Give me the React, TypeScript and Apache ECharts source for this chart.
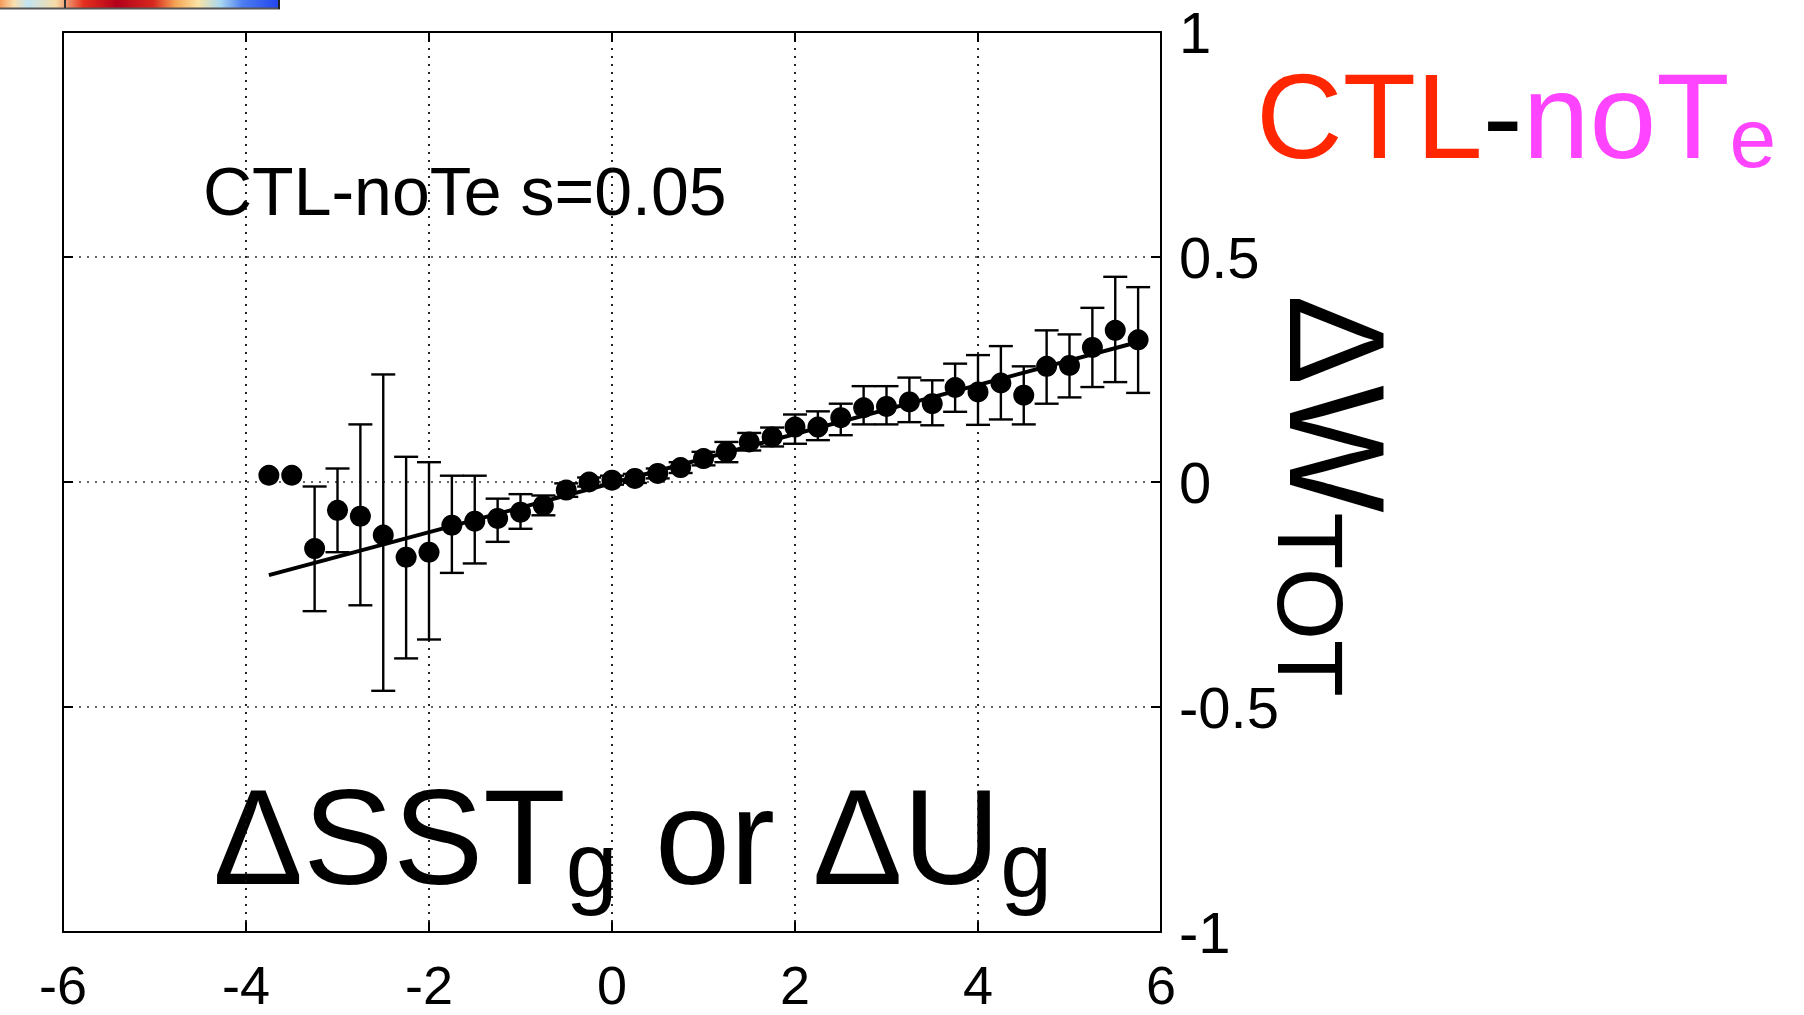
import React, { useEffect, useRef } from "react";
import * as echarts from "echarts";

// ---- data ----
const xValues = [
  -3.75, -3.5, -3.25, -3.0, -2.75, -2.5, -2.25, -2.0, -1.75, -1.5, -1.25, -1.0, -0.75,
  -0.5, -0.25, 0.0, 0.25, 0.5, 0.75, 1.0, 1.25, 1.5, 1.75, 2.0, 2.25, 2.5, 2.75, 3.0,
  3.25, 3.5, 3.75, 4.0, 4.25, 4.5, 4.75, 5.0, 5.25, 5.5, 5.75,
];
const meanValues = [
  0.015, 0.015, -0.148, -0.063, -0.076, -0.118, -0.167, -0.156, -0.096, -0.087, -0.081,
  -0.067, -0.052, -0.018, 0.0, 0.004, 0.008, 0.019, 0.032, 0.052, 0.067, 0.089, 0.1,
  0.122, 0.122, 0.143, 0.165, 0.168, 0.178, 0.174, 0.21, 0.2, 0.22, 0.193, 0.257, 0.259,
  0.299, 0.337, 0.316,
];
const lowValues = [
  null, null, -0.287, -0.156, -0.274, -0.464, -0.392, -0.35, -0.202, -0.181, -0.133,
  -0.104, -0.074, -0.033, -0.01, -0.006, -0.002, 0.008, 0.02, 0.037, 0.044, 0.07, 0.079,
  0.085, 0.093, 0.104, 0.128, 0.128, 0.133, 0.126, 0.156, 0.127, 0.139, 0.128, 0.174,
  0.188, 0.211, 0.222, 0.198,
];
const highValues = [
  null, null, -0.01, 0.03, 0.128, 0.239, 0.056, 0.044, 0.014, 0.014, -0.037, -0.027,
  -0.03, -0.003, 0.01, 0.014, 0.018, 0.03, 0.044, 0.067, 0.089, 0.109, 0.121, 0.15,
  0.157, 0.174, 0.213, 0.213, 0.232, 0.226, 0.263, 0.282, 0.302, 0.257, 0.337, 0.328,
  0.387, 0.456, 0.433,
];
const fitX = [-3.75, 5.75];
const fitY = [-0.207, 0.311];
const xTicks = [-6, -4, -2, 0, 2, 4, 6];
const yTicks = [-1, -0.5, 0, 0.5, 1];

const FONT = '"Liberation Sans", Arial, Helvetica, sans-serif';

let measureCtx: CanvasRenderingContext2D | null = null;
function measure(text: string, size: number): number {
  if (!measureCtx) {
    measureCtx = document.createElement("canvas").getContext("2d");
  }
  if (!measureCtx) return text.length * size * 0.55;
  measureCtx.font = `${size}px ${FONT}`;
  return measureCtx.measureText(text).width;
}

type Piece = { text: string; size: number; color: string; drop?: number };

// builds a run of text pieces on a common baseline (local y = 0)
function textRun(pieces: Piece[], x: number, y: number, rotation = 0) {
  let cx = 0;
  const children = pieces.map((p) => {
    const el = {
      type: "text",
      x: cx,
      y: (p.drop || 0) - 0.3465 * p.size,
      style: {
        text: p.text,
        font: `${p.size}px ${FONT}`,
        fill: p.color,
        align: "left",
        verticalAlign: "middle",
        textAlign: "left",
        textVerticalAlign: "middle",
      },
    };
    cx += measure(p.text, p.size);
    return el;
  });
  return { type: "group", x, y, rotation, children };
}

export default function App() {
  const ref = useRef<HTMLDivElement>(null);

  useEffect(() => {
    if (!ref.current) return;
    const chart = echarts.init(ref.current, undefined, { renderer: "svg" });

    const points = xValues.map((x, i) => [x, meanValues[i]]);
    const bars = xValues
      .map((x, i) => [x, lowValues[i], highValues[i]])
      .filter((r) => r[1] !== null && r[2] !== null);
    const fit = fitX.map((x, i) => [x, fitY[i]]);

    const dottedV = { color: "#111", width: 1.8, type: [2, 6] as number[] };
    const dottedH = { color: "#333", width: 1.6, type: [2, 6] as number[] };
    const frame = { color: "#000", width: 2 };

    const option: any = {
      animation: false,
      backgroundColor: "#fff",
      grid: { left: 63, right: 643, top: 32, bottom: 83, containLabel: false },
      xAxis: [
        {
          type: "value",
          position: "bottom",
          min: xTicks[0],
          max: xTicks[xTicks.length - 1],
          interval: 2,
          axisLine: { show: true, onZero: false, lineStyle: frame },
          axisTick: { show: true, inside: true, length: 10, lineStyle: frame },
          axisLabel: {
            show: true,
            fontSize: 54,
            lineHeight: 44,
            fontFamily: FONT,
            color: "#000",
            margin: 31,
          },
          splitLine: { show: true, lineStyle: dottedV },
        },
        {
          type: "value",
          position: "top",
          min: xTicks[0],
          max: xTicks[xTicks.length - 1],
          interval: 2,
          axisLine: { show: true, onZero: false, lineStyle: frame },
          axisTick: { show: true, inside: true, length: 10, lineStyle: frame },
          axisLabel: { show: false },
          splitLine: { show: false },
        },
      ],
      yAxis: [
        {
          type: "value",
          position: "right",
          min: yTicks[0],
          max: yTicks[yTicks.length - 1],
          interval: 0.5,
          axisLine: { show: true, onZero: false, lineStyle: frame },
          axisTick: { show: true, inside: true, length: 10, lineStyle: frame },
          axisLabel: {
            show: true,
            fontSize: 58,
            fontFamily: FONT,
            color: "#000",
            margin: 18,
          },
          splitLine: { show: true, lineStyle: dottedH },
        },
        {
          type: "value",
          position: "left",
          min: yTicks[0],
          max: yTicks[yTicks.length - 1],
          interval: 0.5,
          axisLine: { show: true, onZero: false, lineStyle: frame },
          axisTick: { show: true, inside: true, length: 10, lineStyle: frame },
          axisLabel: { show: false },
          splitLine: { show: false },
        },
      ],
      series: [
        {
          type: "custom",
          xAxisIndex: 0,
          yAxisIndex: 0,
          data: bars,
          encode: { x: 0, y: [1, 2] },
          z: 2,
          renderItem: (params: any, api: any) => {
            const x = api.value(0);
            const lo = api.coord([x, api.value(1)]);
            const hi = api.coord([x, api.value(2)]);
            const w = 12;
            const st = { stroke: "#000", lineWidth: 2.4 };
            return {
              type: "group",
              children: [
                { type: "line", shape: { x1: lo[0], y1: lo[1], x2: hi[0], y2: hi[1] }, style: st },
                { type: "line", shape: { x1: lo[0] - w, y1: lo[1], x2: lo[0] + w, y2: lo[1] }, style: st },
                { type: "line", shape: { x1: hi[0] - w, y1: hi[1], x2: hi[0] + w, y2: hi[1] }, style: st },
              ],
            };
          },
        },
        {
          type: "line",
          xAxisIndex: 0,
          yAxisIndex: 0,
          data: fit,
          symbol: "none",
          z: 3,
          lineStyle: { color: "#000", width: 4 },
        },
        {
          type: "scatter",
          xAxisIndex: 0,
          yAxisIndex: 0,
          data: points,
          symbol: "circle",
          symbolSize: 21,
          z: 4,
          itemStyle: { color: "#000", opacity: 1 },
        },
      ],
      graphic: [
        {
          type: "rect",
          shape: { x: 0, y: 0, width: 279, height: 8 },
          style: {
            fill: {
              type: "linear",
              x: 0,
              y: 0,
              x2: 1,
              y2: 0,
              colorStops: [
                { offset: 0, color: "#f39a5c" },
                { offset: 0.05, color: "#f9dfae" },
                { offset: 0.1, color: "#c2e4f3" },
                { offset: 0.2, color: "#f6dca6" },
                { offset: 0.3, color: "#e4301e" },
                { offset: 0.42, color: "#b3001b" },
                { offset: 0.55, color: "#d8281f" },
                { offset: 0.63, color: "#f4a655" },
                { offset: 0.71, color: "#fae3a4" },
                { offset: 0.79, color: "#a9d8f1" },
                { offset: 0.87, color: "#4c7cf0" },
                { offset: 1, color: "#2244ee" },
              ],
            },
          },
        },
        { type: "line", shape: { x1: 0, y1: 8.5, x2: 280, y2: 8.5 }, style: { stroke: "#555", lineWidth: 2 } },
        { type: "line", shape: { x1: 65, y1: 0, x2: 65, y2: 8 }, style: { stroke: "#333", lineWidth: 2 } },
        { type: "line", shape: { x1: 279, y1: 0, x2: 279, y2: 9 }, style: { stroke: "#222", lineWidth: 2 } },
        textRun(
          [
            { text: "CTL", size: 120, color: "#ff2600" },
            { text: "-", size: 120, color: "#000" },
            { text: "noT", size: 120, color: "#ff44ff" },
            { text: "e", size: 84, color: "#ff44ff", drop: 9 },
          ],
          1256,
          158
        ),
        textRun([{ text: "CTL-noTe s=0.05", size: 68, color: "#000" }], 203, 215),
        textRun(
          [
            { text: "ΔSST", size: 135, color: "#000" },
            { text: "g", size: 93, color: "#000", drop: 13 },
            { text: " or ΔU", size: 135, color: "#000" },
            { text: "g", size: 93, color: "#000", drop: 13 },
          ],
          213,
          884
        ),
        textRun(
          [
            { text: "ΔW", size: 135, color: "#000" },
            { text: "TOT", size: 93, color: "#000", drop: 12 },
          ],
          1290,
          295,
          -Math.PI / 2
        ),
      ],
    };

    chart.setOption(option);
    return () => chart.dispose();
  }, []);

  return (
    <div
      ref={ref}
      style={{ position: "absolute", left: 0, top: 0, width: 1804, height: 1015, background: "#fff" }}
    />
  );
}
